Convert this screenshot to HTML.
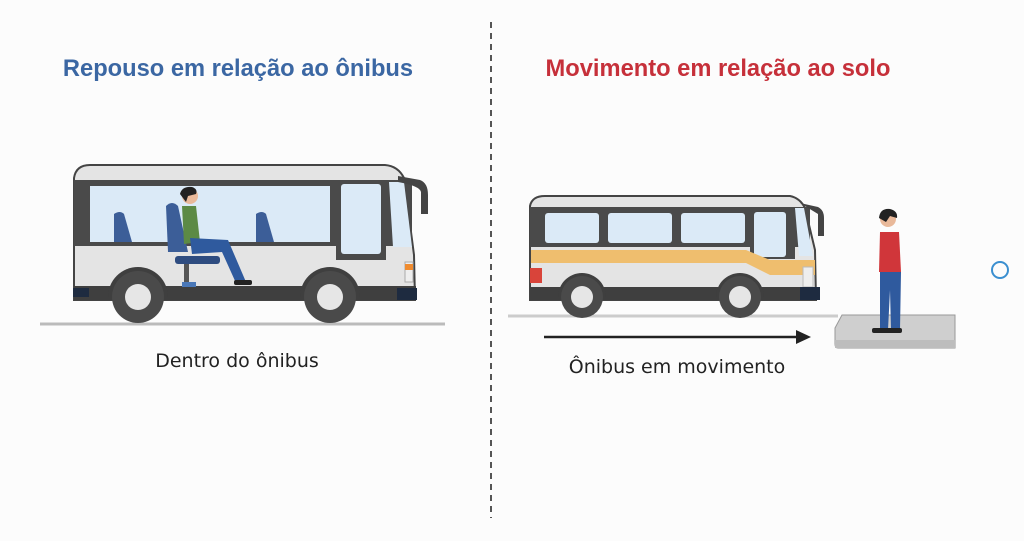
<!DOCTYPE html>
<html><head><meta charset="utf-8"><style>
body{margin:0;background:#fcfcfc;}
svg{display:block;}
text{font-family:"Liberation Sans",sans-serif;}
</style></head><body>
<svg width="1024" height="541" viewBox="0 0 1024 541">
<rect width="1024" height="541" fill="#fcfcfc"/>
<line x1="491" y1="22" x2="491" y2="518" stroke="#555" stroke-width="2" stroke-dasharray="6,5"/>
<text x="238" y="76" text-anchor="middle" font-size="23.7" font-weight="bold" fill="#3b67a3">Repouso em relação ao ônibus</text>
<text x="718" y="76" text-anchor="middle" font-size="23.7" font-weight="bold" fill="#c6303a">Movimento em relação ao solo</text>

<!-- Left bus -->
<line x1="40" y1="324" x2="445" y2="324" stroke="#bbb" stroke-width="3"/>
<path d="M74 300 L74 178 Q76 165 90 165 L385 165 Q398 166 404 178 L414 255 L415 300 Z" fill="#e4e4e4" stroke="#444" stroke-width="2"/>
<rect x="74" y="180" width="338" height="66" fill="#4a4a4a"/>
<rect x="90" y="186" width="240" height="56" fill="#dbeaf7"/>
<rect x="336" y="180" width="50" height="80" fill="#4a4a4a"/>
<rect x="341" y="184" width="40" height="70" rx="3" fill="#dbeaf7"/>
<path d="M389 182 L404 182 L412 247 L393 247 Z" fill="#dbeaf7"/>
<path d="M398 176 L420 180 Q428 183 428 195 L428 214 L421 214 L421 192 Q420 186 398 182Z" fill="#444"/>
<rect x="74" y="286" width="342" height="14" fill="#3f3f3f"/>
<path d="M108 297 A30 30 0 0 1 168 297 Z" fill="#3f3f3f"/>
<path d="M300 297 A30 30 0 0 1 360 297 Z" fill="#3f3f3f"/>
<rect x="73" y="288" width="16" height="9" fill="#1e2b40"/>
<rect x="397" y="288" width="20" height="12" fill="#1e2b40"/>
<rect x="405" y="262" width="8" height="20" fill="#eee" stroke="#aaa"/>
<rect x="405" y="264" width="8" height="6" fill="#f08c30"/>
<circle cx="138" cy="297" r="26" fill="#4a4a4a"/><circle cx="138" cy="297" r="13" fill="#e6e6e6"/>
<circle cx="330" cy="297" r="26" fill="#4a4a4a"/><circle cx="330" cy="297" r="13" fill="#e6e6e6"/>
<!-- seats -->
<path d="M114 214 Q120 210 124 214 L132 242 L114 242 Z" fill="#3c5e98"/>
<path d="M256 214 Q262 210 266 214 L274 242 L256 242 Z" fill="#3c5e98"/>
<path d="M166 206 Q172 200 178 206 L188 252 L168 252 Z" fill="#3c5e98"/>
<rect x="175" y="256" width="45" height="8" rx="3" fill="#2e4c80"/>
<rect x="184" y="264" width="5" height="18" fill="#555"/>
<rect x="182" y="282" width="14" height="5" fill="#4a78b8"/>
<!-- person sitting -->
<circle cx="190" cy="196" r="8" fill="#e9b99a"/>
<path d="M180 194 Q182 186 192 187 Q198 189 196 194 L188 196 L186 202 Z" fill="#222"/>
<path d="M182 206 L196 206 L200 242 L184 244 Z" fill="#5c8a45"/>
<path d="M190 238 L228 240 L246 282 L236 283 L222 252 L192 254 Z" fill="#2f5a9e"/>
<rect x="234" y="280" width="18" height="5" rx="2" fill="#222"/>

<text x="237" y="367" text-anchor="middle" font-size="19" fill="#222" style='font-family:"DejaVu Sans",sans-serif'>Dentro do ônibus</text>

<!-- Right bus -->
<line x1="508" y1="316" x2="838" y2="316" stroke="#ccc" stroke-width="3"/>
<path d="M530 300 L530 206 Q532 196 545 196 L790 196 Q800 198 805 208 L815 250 L816 300 Z" fill="#e4e4e4" stroke="#444" stroke-width="2"/>
<rect x="530" y="207" width="280" height="40" fill="#4a4a4a"/>
<rect x="545" y="213" width="54" height="30" rx="3" fill="#dbeaf7"/>
<rect x="608" y="213" width="64" height="30" rx="3" fill="#dbeaf7"/>
<rect x="681" y="213" width="64" height="30" rx="3" fill="#dbeaf7"/>
<rect x="750" y="207" width="45" height="52" fill="#4a4a4a"/>
<rect x="754" y="212" width="32" height="45" rx="3" fill="#dbeaf7"/>
<path d="M795 208 L804 208 L813 256 L799 256 Z" fill="#dbeaf7"/>
<path d="M800 203 L818 207 Q824 210 824 218 L824 236 L818 236 L818 214 Z" fill="#444"/>
<path d="M531 250 L746 250 L770 260 L815 260 L815 275 L770 275 L746 263 L531 263 Z" fill="#efbe6e"/>
<rect x="530" y="268" width="12" height="15" fill="#d9443a"/>
<rect x="803" y="267" width="10" height="20" fill="#eee" stroke="#bbb"/>
<rect x="530" y="287" width="290" height="13" fill="#3f3f3f"/>
<path d="M558 297 A24 24 0 0 1 606 297 Z" fill="#3f3f3f"/>
<path d="M716 297 A24 24 0 0 1 764 297 Z" fill="#3f3f3f"/>
<rect x="800" y="287" width="20" height="13" fill="#1e2b40"/>
<circle cx="582" cy="297" r="21" fill="#4a4a4a"/><circle cx="582" cy="297" r="11" fill="#e6e6e6"/>
<circle cx="740" cy="297" r="21" fill="#4a4a4a"/><circle cx="740" cy="297" r="11" fill="#e6e6e6"/>
<!-- arrow -->
<line x1="544" y1="337" x2="798" y2="337" stroke="#222" stroke-width="2.5"/>
<path d="M796 330 L811 337 L796 344 Z" fill="#222"/>
<text x="677" y="373" text-anchor="middle" font-size="19" fill="#222" style='font-family:"DejaVu Sans",sans-serif'>Ônibus em movimento</text>
<!-- platform -->
<path d="M842 315 L955 315 L955 348 L838 348 Q835 348 835 344 L835 328 Z" fill="#cfcfcf" stroke="#999"/>
<rect x="835" y="340" width="120" height="8" fill="#bdbdbd"/>
<!-- standing person -->
<circle cx="888" cy="219" r="8" fill="#e9b99a"/>
<path d="M879 218 Q880 208 890 209 Q898 211 897 218 L890 216 L886 222Z" fill="#222"/>
<path d="M880 232 L899 232 L901 272 L879 272 Z" fill="#d0363a"/>
<path d="M880 272 L901 272 L900 330 L891 330 L890 290 L888 330 L880 330 Z" fill="#2f5a9e"/>
<rect x="872" y="328" width="30" height="5" rx="2" fill="#222"/>
<circle cx="1000" cy="270" r="8" fill="none" stroke="#3b8fd0" stroke-width="2"/>
</svg>
</body></html>
